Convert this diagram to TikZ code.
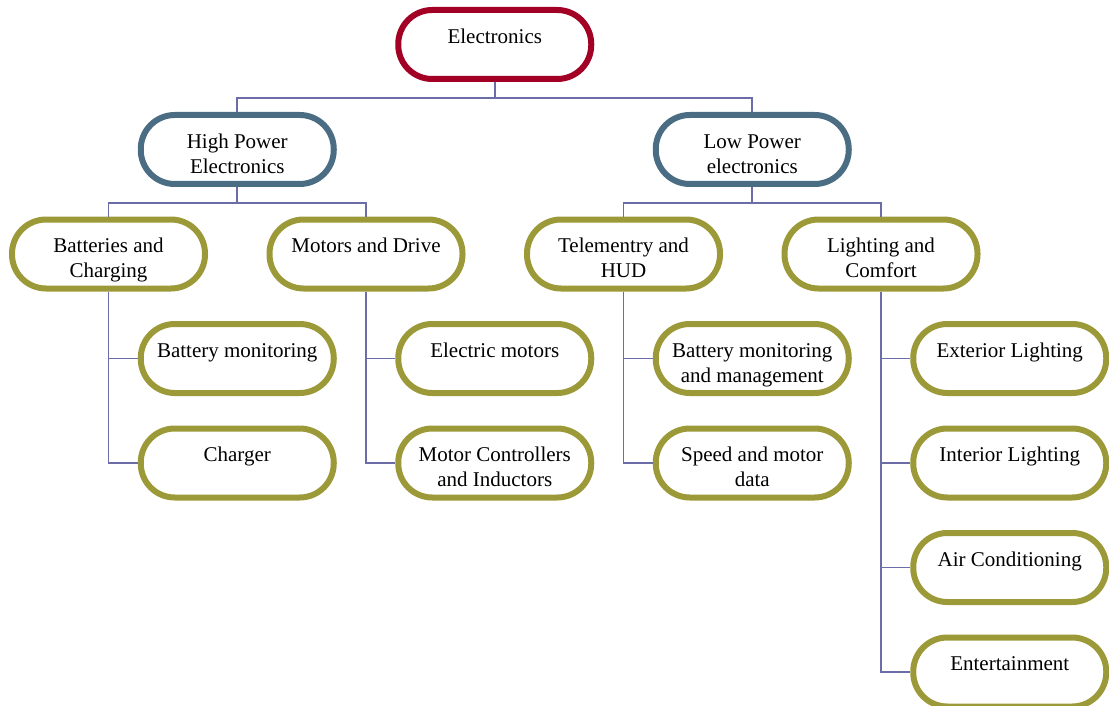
\documentclass[tikz,border=0pt]{standalone}
\usepackage{fontspec}
\setmainfont{Liberation Serif}
\definecolor{rootc}{HTML}{A30026}
\definecolor{midc}{HTML}{4B6D83}
\definecolor{leafc}{HTML}{9C9A38}
\definecolor{linkc}{HTML}{6C6CA6}
\tikzset{
  pill/.style={draw=#1, line width=3pt, fill=white, rounded corners=17pt,
    minimum width=96.5pt, minimum height=34.5pt, inner sep=0pt},
  lbl/.style={anchor=base, inner sep=0pt, font=\fontsize{10.5}{12.5}\selectfont},
  link/.style={draw=linkc, line width=0.8pt},
}
% box with its caption hanging from the first baseline
\newcommand{\pillbox}[4]{%
  \node[pill=#3] (#1) at (#2) {};
  \node[lbl] (#1-t) at ([yshift=0.6pt]#1.center) {\parbox[t]{92pt}{\centering #4}};
}
\begin{document}
\begin{tikzpicture}[x=0.5pt,y=-0.5pt]
\useasboundingbox (0,0) rectangle (1109,706);

% level 0
\pillbox{el}{494.75,44.5}{rootc}{Electronics}
% level 1
\pillbox{hp}{237.25,149.5}{midc}{High Power\\Electronics}
\pillbox{lp}{752.25,149.5}{midc}{Low Power\\electronics}
% level 2
\pillbox{bc}{108.5,254}{leafc}{Batteries and\\Charging}
\pillbox{md}{366,254}{leafc}{Motors and Drive}
\pillbox{th}{623.5,254}{leafc}{Telementry and\\HUD}
\pillbox{lc}{881,254}{leafc}{Lighting and\\Comfort}
% leaves
\pillbox{bm}{237.25,358.5}{leafc}{Battery monitoring}
\pillbox{ch}{237.25,463}{leafc}{Charger}
\pillbox{em}{494.75,358.5}{leafc}{Electric motors}
\pillbox{mc}{494.75,463}{leafc}{Motor Controllers\\and Inductors}
\pillbox{bmm}{752.25,358.5}{leafc}{Battery monitoring\\and management}
\pillbox{sm}{752.25,463}{leafc}{Speed and motor\\data}
\pillbox{ext}{1009.75,358.5}{leafc}{Exterior Lighting}
\pillbox{int}{1009.75,463}{leafc}{Interior Lighting}
\pillbox{air}{1009.75,567.5}{leafc}{Air Conditioning}
\pillbox{ent}{1009.75,672}{leafc}{Entertainment}

% tree connectors
\draw[link] (el.south) -- ++(0,16) -| (hp.north);
\draw[link] (el.south) -- ++(0,16) -| (lp.north);
\draw[link] (hp.south) -- ++(0,16) -| (bc.north);
\draw[link] (hp.south) -- ++(0,16) -| (md.north);
\draw[link] (lp.south) -- ++(0,16) -| (th.north);
\draw[link] (lp.south) -- ++(0,16) -| (lc.north);
\draw[link] (bc.south) |- (bm.west);
\draw[link] (bc.south) |- (ch.west);
\draw[link] (md.south) |- (em.west);
\draw[link] (md.south) |- (mc.west);
\draw[link] (th.south) |- (bmm.west);
\draw[link] (th.south) |- (sm.west);
\draw[link] (lc.south) |- (ext.west);
\draw[link] (lc.south) |- (int.west);
\draw[link] (lc.south) |- (air.west);
\draw[link] (lc.south) |- (ent.west);
\end{tikzpicture}
\end{document}
